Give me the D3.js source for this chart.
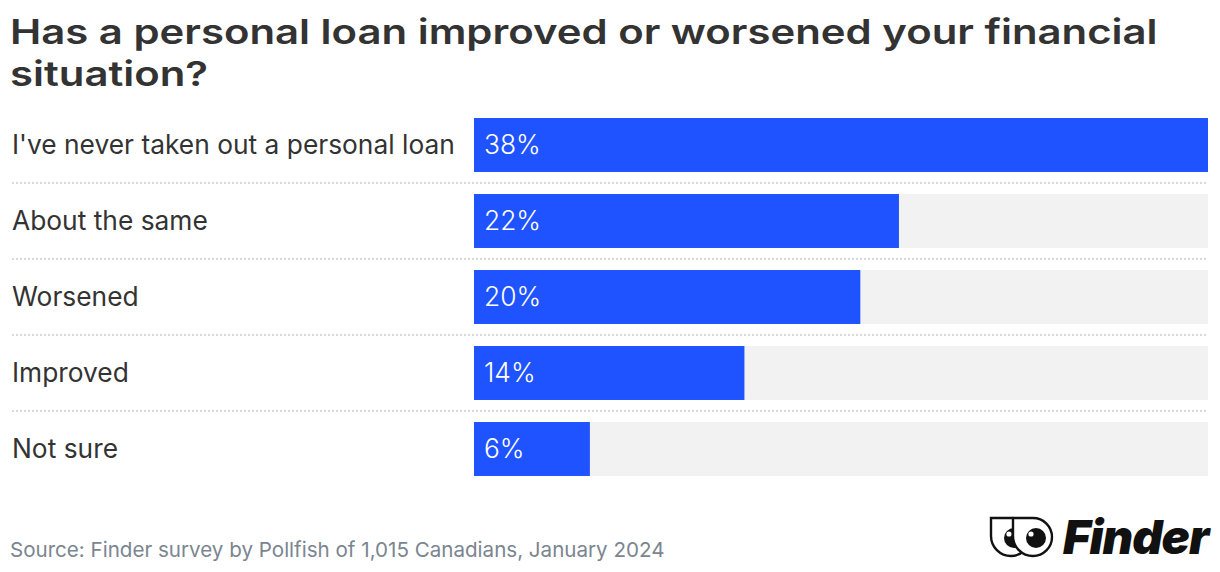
<!DOCTYPE html>
<html>
<head>
<meta charset="utf-8">
<script src="https://cdn.jsdelivr.net/npm/d3@7"></script>
<style>
  body { margin: 0; background: #fff; }
  svg text { font-family: Inter, "Open Sans", sans-serif; }
</style>
</head>
<body>
<svg id="chart" width="1220" height="572"></svg>
<script>
var categories = ["I've never taken out a personal loan", "About the same", "Worsened", "Improved", "Not sure"];
var values = [38, 22, 20, 14, 6];
var titleLines = ["Has a personal loan improved or worsened your financial", "situation?"];
var sourceText = "Source: Finder survey by Pollfish of 1,015 Canadians, January 2024";

var svg = d3.select("#chart");
var barLeft = 474, barRight = 1208;

// fit a text element to a target width by adjusting its font size
function fitWidth(sel, target) {
  var node = sel.node();
  var fs = parseFloat(sel.attr("font-size"));
  var w = node.getComputedTextLength();
  if (w > 0) sel.attr("font-size", fs * target / w);
  return fs * target / w;
}

// title: a touch smaller font, stretched horizontally to the reference width
var titleG = svg.append("g");
var title = titleG.append("text").attr("x", 0).attr("y", 44)
  .attr("font-size", 34.5).attr("font-weight", 600).attr("fill", "#333");
title.selectAll("tspan").data(titleLines).enter().append("tspan")
  .attr("x", 0).attr("dy", function(d, i) { return i ? 42.5 : 0; })
  .text(function(d) { return d; });
var w0 = title.select("tspan").node().getComputedTextLength();
titleG.attr("transform", "translate(10,0) scale(" + (1148 / w0) + ",1)");

var y = d3.scaleBand().domain(categories).range([106, 486]).paddingInner(0.29).paddingOuter(0.145);
var x = d3.scaleLinear().domain([0, d3.max(values)]).range([barLeft, barRight]);

var rows = svg.append("g").selectAll("g").data(categories).enter().append("g");

// background track
rows.append("rect")
  .attr("x", barLeft).attr("y", function(d) { return y(d) + 1; })
  .attr("width", barRight - barLeft).attr("height", y.bandwidth())
  .attr("fill", "#f2f2f2");

rows.append("rect")
  .attr("x", barLeft).attr("y", function(d) { return y(d) + 1; })
  .attr("width", function(d, i) { return x(values[i]) - barLeft; })
  .attr("height", y.bandwidth())
  .attr("fill", "#1f53ff");

var labels = rows.append("text")
  .attr("x", 12).attr("y", function(d) { return y(d) + 1 + y.bandwidth() / 2; })
  .attr("dy", "0.35em").attr("font-size", 24).attr("fill", "#333")
  .text(function(d) { return d; });
var lfs = fitWidth(d3.select(labels.nodes()[0]), 443);
labels.attr("font-size", lfs);

rows.append("text")
  .attr("x", barLeft + 10).attr("y", function(d) { return y(d) + 1 + y.bandwidth() / 2; })
  .attr("dy", "0.35em").attr("font-size", lfs).attr("font-weight", 300).attr("fill", "#fff")
  .text(function(d, i) { return values[i] + "%"; });

// dotted separators
var step = y.step();
svg.append("g").selectAll("line").data(categories.slice(0, -1)).enter().append("line")
  .attr("x1", 12).attr("x2", barRight)
  .attr("y1", function(d) { return y(d) + 1 + y.bandwidth() + (step - y.bandwidth()) / 2; })
  .attr("y2", function(d) { return y(d) + 1 + y.bandwidth() + (step - y.bandwidth()) / 2; })
  .attr("stroke", "#d9d9d9").attr("stroke-width", 2).attr("stroke-dasharray", "2,2");

// source
var src = svg.append("text").attr("x", 10).attr("y", 557)
  .attr("font-size", 20).attr("fill", "#7b8590").text(sourceText);
fitWidth(src, 655);

// logo
var logo = svg.append("g").attr("transform", "translate(990,517)");
function eye(g, ox) {
  g.append("path")
    .attr("d", "M" + (ox + 1) + ",1 L" + (ox + 21) + ",1 A19,19 0 0 1 " + (ox + 21) + ",39 A20,20 0 0 1 " + (ox + 1) + ",19 Z")
    .attr("fill", "#fff").attr("stroke", "#111").attr("stroke-width", 2.4);
  g.append("circle").attr("cx", ox + 24).attr("cy", 21).attr("r", 10).attr("fill", "#111");
  g.append("circle").attr("cx", ox + 19).attr("cy", 17).attr("r", 2.6).attr("fill", "#fff");
}
eye(logo, 0);
eye(logo, 22);
var ft = logo.append("text").attr("x", 73).attr("y", 37)
  .attr("font-size", 44).attr("font-weight", 900).attr("font-style", "italic")
  .attr("fill", "#111").attr("letter-spacing", -1).text("Finder");
fitWidth(ft, 145);
</script>
</body>
</html>
